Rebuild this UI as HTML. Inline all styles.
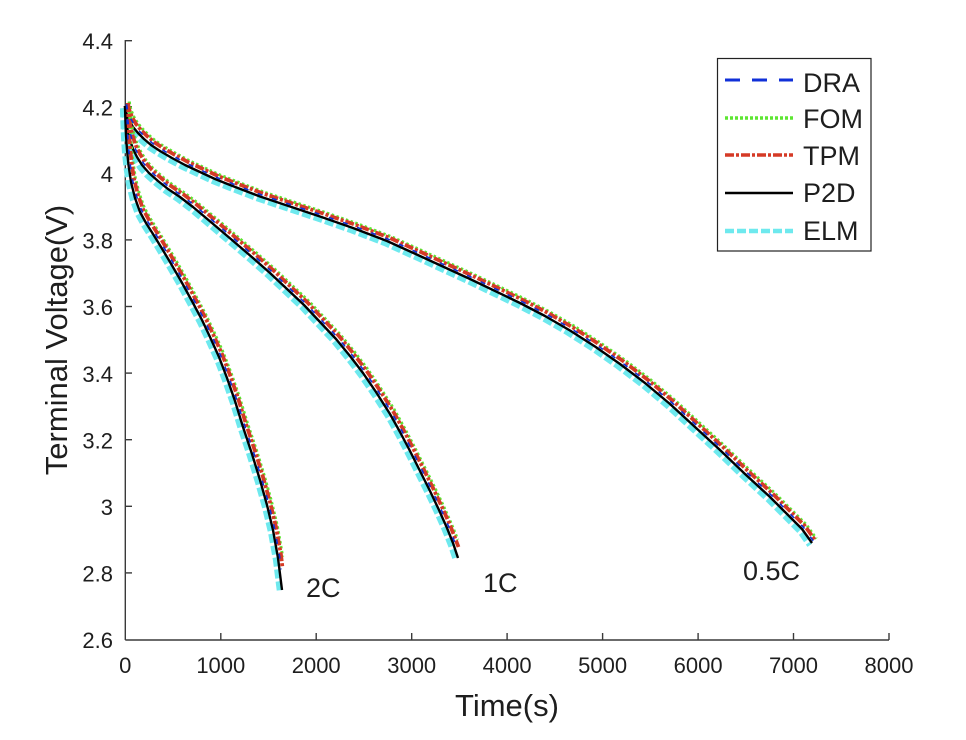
<!DOCTYPE html>
<html>
<head>
<meta charset="utf-8">
<style>
html,body{margin:0;padding:0;background:#fff;}
svg{display:block;}
text{font-family:"Liberation Sans",Arial,sans-serif;fill:#1e1e1e;}
</style>
</head>
<body>
<svg width="966" height="740" viewBox="0 0 966 740" xmlns="http://www.w3.org/2000/svg">
<rect width="966" height="740" fill="#fff"/>

<!-- axes -->
<g stroke="#3a3a3a" stroke-width="1.4" fill="none">
  <line x1="125.3" y1="40" x2="125.3" y2="640"/>
  <line x1="125.3" y1="640" x2="889" y2="640"/>
  <line x1="220.8" y1="640" x2="220.8" y2="633"/>
  <line x1="316.2" y1="640" x2="316.2" y2="633"/>
  <line x1="411.7" y1="640" x2="411.7" y2="633"/>
  <line x1="507.1" y1="640" x2="507.1" y2="633"/>
  <line x1="602.6" y1="640" x2="602.6" y2="633"/>
  <line x1="698.1" y1="640" x2="698.1" y2="633"/>
  <line x1="793.5" y1="640" x2="793.5" y2="633"/>
  <line x1="889" y1="640" x2="889" y2="633"/>
  <line x1="125.3" y1="572.9" x2="132" y2="572.9"/>
  <line x1="125.3" y1="506.3" x2="132" y2="506.3"/>
  <line x1="125.3" y1="439.7" x2="132" y2="439.7"/>
  <line x1="125.3" y1="373.1" x2="132" y2="373.1"/>
  <line x1="125.3" y1="306.5" x2="132" y2="306.5"/>
  <line x1="125.3" y1="239.9" x2="132" y2="239.9"/>
  <line x1="125.3" y1="173.3" x2="132" y2="173.3"/>
  <line x1="125.3" y1="106.7" x2="132" y2="106.7"/>
  <line x1="125.3" y1="40.7" x2="132" y2="40.7"/>
</g>

<g font-size="22" text-anchor="end">
  <text x="113" y="648">2.6</text>
  <text x="113" y="581.5">2.8</text>
  <text x="113" y="515">3</text>
  <text x="113" y="448.5">3.2</text>
  <text x="113" y="382">3.4</text>
  <text x="113" y="315">3.6</text>
  <text x="113" y="248.5">3.8</text>
  <text x="113" y="182">4</text>
  <text x="113" y="115.5">4.2</text>
  <text x="113" y="49">4.4</text>
</g>
<g font-size="22" text-anchor="middle">
  <text x="125.3" y="673">0</text>
  <text x="220.8" y="673">1000</text>
  <text x="316.2" y="673">2000</text>
  <text x="411.7" y="673">3000</text>
  <text x="507.1" y="673">4000</text>
  <text x="602.6" y="673">5000</text>
  <text x="698.1" y="673">6000</text>
  <text x="793.5" y="673">7000</text>
  <text x="889" y="673">8000</text>
</g>

<text x="507" y="716" font-size="31" text-anchor="middle">Time(s)</text>
<text transform="translate(67,340) rotate(-90)" font-size="31" text-anchor="middle">Terminal Voltage(V)</text>

<defs>
  <path id="c2" d="M125,106 L125.4,120 L126,135 L127,150 L128.5,165 L131,182 L135,198 L140,212 L146,223 L153,234 L161,247 L170,262 L181,281 L193,303 L202,320 L210,337 L219,357 L227,378 L235,401 L243,427 L252,454 L260,480 L267,505 L273,530 L278,558 L282,590"/>
  <path id="c2r" d="M125,106 L125.4,120 L126,135 L127,150 L128.5,165 L131,182 L135,198 L140,212 L146,223 L153,234 L161,247 L170,262 L181,281 L193,303 L202,320 L210,337 L219,357 L227,378 L235,401 L243,427 L252,454 L260,480 L267,505 L273,530 L278,558 L279.5,571"/>
  <path id="c2g" d="M125,106 L125.4,120 L126,135 L127,150 L128.5,165 L131,182 L135,198 L140,212 L146,223 L153,234 L161,247 L170,262 L181,281 L193,303 L202,320 L210,337 L219,357 L227,378 L235,401 L243,427 L252,454 L260,480 L267,505 L273,530 L278.4,561"/>
  <path id="c1" d="M125,106 L125.6,115 L126.5,124 L128,132 L130,140 L133,149 L137,157 L142,165 L149,173 L158,181 L168,189 L180,197 L193,207 L212,223 L232,240 L253,258 L270,273 L287,289 L304,305 L320,322 L336,339 L350,356 L363,373 L376,392 L390,414 L400,432 L410,451 L420,471 L430,491 L439,510 L447,528 L453,543 L458,558"/>
  <path id="c1r" d="M125,106 L125.6,115 L126.5,124 L128,132 L130,140 L133,149 L137,157 L142,165 L149,173 L158,181 L168,189 L180,197 L193,207 L212,223 L232,240 L253,258 L270,273 L287,289 L304,305 L320,322 L336,339 L350,356 L363,373 L376,392 L390,414 L400,432 L410,451 L420,471 L430,491 L439,510 L447,528 L455.5,550"/>
  <path id="c1g" d="M125,106 L125.6,115 L126.5,124 L128,132 L130,140 L133,149 L137,157 L142,165 L149,173 L158,181 L168,189 L180,197 L193,207 L212,223 L232,240 L253,258 L270,273 L287,289 L304,305 L320,322 L336,339 L350,356 L363,373 L376,392 L390,414 L400,432 L410,451 L420,471 L430,491 L439,510 L447,528 L453.5,544"/>
  <path id="c05" d="M125,106 L125.5,110 L127,115 L129.5,121 L133,127 L138,133 L144,139 L151,145 L160,151 L172,158 L185,165 L200,172 L215,179 L230,185 L260,196.5 L290,206.5 L320,216.5 L353,228 L387,241 L420,256 L470,279 L520,303 L545,316 L570,330.5 L595,346.5 L620,364 L645,383 L670,404 L695,427 L720,450 L745,474 L770,497 L790,517 L802,529 L812,543"/>
</defs>

<g fill="none" stroke-linejoin="round">
  <g transform="translate(-2.3,2.3)" stroke="#6ee9ee" stroke-width="5.5" stroke-dasharray="9 3">
    <use href="#c2"/><use href="#c1"/><use href="#c05"/>
  </g>
  <g stroke="#000" stroke-width="2.4">
    <use href="#c2"/><use href="#c1"/><use href="#c05"/>
  </g>
  <g transform="translate(4.3,-4.3)" stroke="#5de632" stroke-width="3" stroke-dasharray="2.5 2.5">
    <use href="#c2g"/><use href="#c1g"/><use href="#c05"/>
  </g>
  <g transform="translate(3,-3)" stroke="#d53a26" stroke-width="3.8" stroke-dasharray="9 2 3 2">
    <use href="#c2r"/><use href="#c1r"/><use href="#c05"/>
  </g>
  <g transform="translate(1.6,-1.6)" stroke="#1030d8" stroke-width="1.6" stroke-dasharray="5 10">
    <use href="#c2r"/><use href="#c1r"/><use href="#c05"/>
  </g>
</g>

<g font-size="27">
  <text x="306" y="597">2C</text>
  <text x="483" y="592">1C</text>
  <text x="743" y="580">0.5C</text>
</g>

<rect x="717.5" y="58.5" width="153.5" height="192.5" fill="#fff" stroke="#222" stroke-width="1.2"/>
<g fill="none">
  <line x1="725" y1="80" x2="793" y2="80" stroke="#1030d8" stroke-width="3" stroke-dasharray="15 12"/>
  <line x1="725" y1="118" x2="795" y2="118" stroke="#5de632" stroke-width="3.5" stroke-dasharray="3 2"/>
  <line x1="725" y1="155" x2="793" y2="155" stroke="#d53a26" stroke-width="3.5" stroke-dasharray="9 2 3 2"/>
  <line x1="725" y1="193" x2="793" y2="193" stroke="#000" stroke-width="2.5"/>
  <line x1="725" y1="231" x2="793" y2="231" stroke="#6ee9ee" stroke-width="4.5" stroke-dasharray="9 3"/>
</g>
<g font-size="27">
  <text x="803" y="92">DRA</text>
  <text x="803" y="128">FOM</text>
  <text x="803" y="165">TPM</text>
  <text x="803" y="202">P2D</text>
  <text x="803" y="240">ELM</text>
</g>
</svg>
</body>
</html>
